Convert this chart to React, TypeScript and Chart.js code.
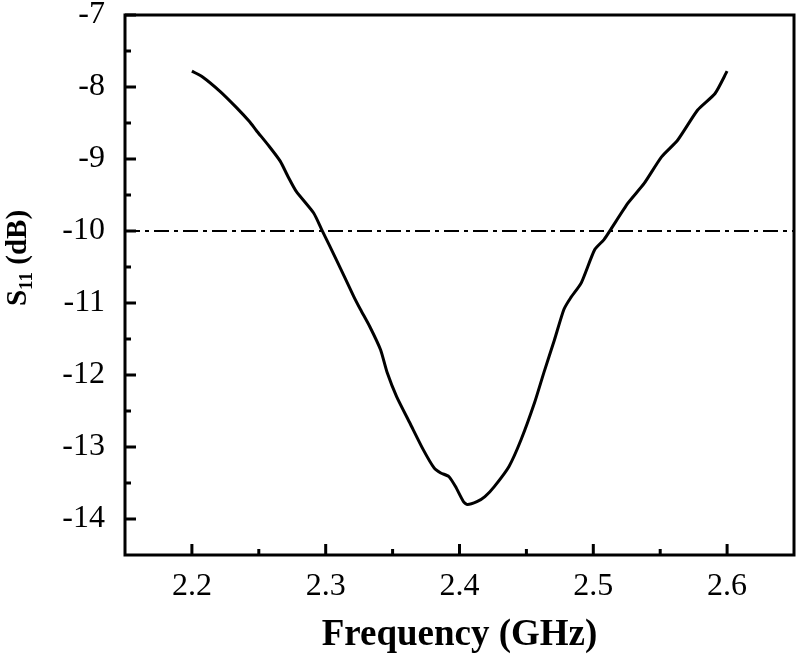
import React, { useEffect, useRef } from "react";
import { Chart, registerables } from "chart.js";

Chart.register(...registerables);

const freqGHz = [
  2.2, 2.208, 2.221, 2.233, 2.243, 2.248, 2.258, 2.266, 2.272, 2.278, 2.291,
  2.297, 2.308, 2.321, 2.326, 2.333, 2.341, 2.346, 2.353, 2.363, 2.373, 2.381,
  2.386, 2.392, 2.397, 2.403, 2.406, 2.413, 2.419, 2.426, 2.437, 2.446, 2.456,
  2.463, 2.471, 2.478, 2.483, 2.491, 2.501, 2.508, 2.513, 2.526, 2.538, 2.551,
  2.563, 2.578, 2.591, 2.6,
];
const s11dB = [
  -7.78, -7.86, -8.06, -8.28, -8.48, -8.6, -8.83, -9.03, -9.25, -9.45, -9.75,
  -9.98, -10.4, -10.91, -11.09, -11.33, -11.65, -11.97, -12.3, -12.67, -13.04,
  -13.29, -13.36, -13.41, -13.55, -13.76, -13.8, -13.76, -13.69, -13.55, -13.27,
  -12.9, -12.39, -11.97, -11.51, -11.09, -10.93, -10.72, -10.26, -10.12, -9.98,
  -9.61, -9.34, -8.97, -8.74, -8.32, -8.09, -7.78,
];
const refLevelDb = -10;
const refFreqRange = [2.15, 2.65];
const xTickValues = [2.2, 2.3, 2.4, 2.5, 2.6];
const xMinorValues = [2.25, 2.35, 2.45, 2.55];
const yTickValues = [-7, -8, -9, -10, -11, -12, -13, -14];
const yMinorValues = [-7.5, -8.5, -9.5, -10.5, -11.5, -12.5, -13.5];
const xTitle = "Frequency (GHz)";
const yTitleMain = "S";
const yTitleSub = "11";
const yTitleRest = " (dB)";

const FONT = '"Liberation Serif", "Times New Roman", serif';

const framePlugin = {
  id: "frame",
  afterDraw(chart: any) {
    const { ctx, chartArea, scales } = chart;
    const { left, right, top, bottom } = chartArea;
    const x = scales.x;
    const y = scales.y;
    ctx.save();
    ctx.strokeStyle = "#000";
    ctx.lineWidth = 3;
    ctx.lineCap = "butt";
    ctx.strokeRect(left, top, right - left, bottom - top);
    ctx.beginPath();
    xTickValues.forEach((v) => {
      const px = x.getPixelForValue(v);
      ctx.moveTo(px, bottom);
      ctx.lineTo(px, bottom - 11);
    });
    xMinorValues.forEach((v) => {
      const px = x.getPixelForValue(v);
      ctx.moveTo(px, bottom);
      ctx.lineTo(px, bottom - 6);
    });
    yTickValues.forEach((v) => {
      const py = y.getPixelForValue(v);
      ctx.moveTo(left, py);
      ctx.lineTo(left + 11, py);
    });
    yMinorValues.forEach((v) => {
      const py = y.getPixelForValue(v);
      ctx.moveTo(left, py);
      ctx.lineTo(left + 6, py);
    });
    ctx.stroke();

    ctx.fillStyle = "#000";
    ctx.textBaseline = "alphabetic";
    ctx.textAlign = "center";
    ctx.font = `bold 37px ${FONT}`;
    ctx.fillText(xTitle, (left + right) / 2, bottom + 90);

    // y title with subscript
    const mainFont = `bold 29px ${FONT}`;
    const subFont = `bold 19px ${FONT}`;
    ctx.font = mainFont;
    const wS = ctx.measureText(yTitleMain).width;
    const wRest = ctx.measureText(yTitleRest).width;
    ctx.font = subFont;
    const wSub = ctx.measureText(yTitleSub).width;
    const total = wS + wSub + wRest;
    ctx.translate(26, 258);
    ctx.rotate(-Math.PI / 2);
    ctx.textAlign = "left";
    let cx = -total / 2;
    ctx.font = mainFont;
    ctx.fillText(yTitleMain, cx, 0);
    cx += wS;
    ctx.font = subFont;
    ctx.fillText(yTitleSub, cx, 6);
    cx += wSub;
    ctx.font = mainFont;
    ctx.fillText(yTitleRest, cx, 0);
    ctx.restore();
  },
};

export default function App() {
  const ref = useRef<HTMLCanvasElement | null>(null);
  useEffect(() => {
    if (!ref.current) return;
    const chart = new Chart(ref.current, {
      type: "line",
      data: {
        datasets: [
          {
            data: freqGHz.map((f, i) => ({ x: f, y: s11dB[i] })),
            borderColor: "#000",
            borderWidth: 3,
            pointRadius: 0,
            tension: 0.2,
            fill: false,
          },
          {
            data: refFreqRange.map((f) => ({ x: f, y: refLevelDb })),
            borderColor: "#000",
            borderWidth: 2,
            borderDash: [15, 5, 4, 5],
            pointRadius: 0,
            fill: false,
          },
        ],
      },
      options: {
        responsive: false,
        animation: false,
        layout: { padding: { left: 0, top: 15, right: 6, bottom: 0 } },
        plugins: {
          legend: { display: false },
          tooltip: { enabled: false },
        },
        scales: {
          x: {
            type: "linear",
            min: 2.15,
            max: 2.65,
            grid: { display: false },
            border: { display: false },
            afterBuildTicks: (s: any) => {
              s.ticks = xTickValues.map((v) => ({ value: v }));
            },
            afterFit: (s: any) => {
              s.height = 103;
              s.paddingLeft = 0;
              s.paddingRight = 0;
            },
            ticks: {
              color: "#000",
              font: { family: FONT, size: 32 },
              padding: 4,
              maxRotation: 0,
              callback: (v: any) => Number(v).toFixed(1),
            },
          },
          y: {
            type: "linear",
            min: -14.5,
            max: -7,
            grid: { display: false },
            border: { display: false },
            afterBuildTicks: (s: any) => {
              s.ticks = yTickValues.map((v) => ({ value: v }));
            },
            afterFit: (s: any) => {
              s.width = 125;
              s.paddingTop = 0;
              s.paddingBottom = 0;
            },
            ticks: {
              color: "#000",
              font: { family: FONT, size: 32 },
              padding: 12,
              callback: (v: any) => String(v),
            },
          },
        },
      },
      plugins: [framePlugin],
    });
    return () => chart.destroy();
  }, []);
  return (
    <div
      style={{
        position: "fixed",
        left: 0,
        top: 0,
        width: 800,
        height: 658,
        background: "#fff",
      }}
    >
      <canvas ref={ref} width={800} height={658} style={{ display: "block" }} />
    </div>
  );
}
